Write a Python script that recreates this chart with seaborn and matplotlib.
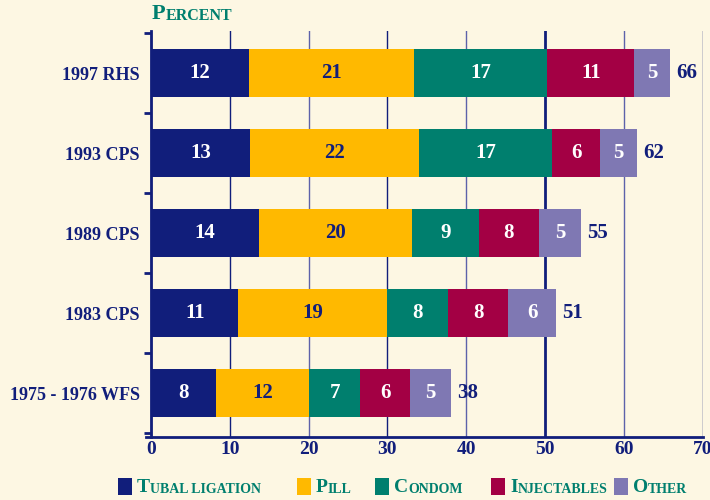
import numpy as np
import matplotlib
matplotlib.use("Agg")
import matplotlib.pyplot as plt
import seaborn as sns
from matplotlib.patches import Rectangle

# survey rows, top to bottom
surveys = ["1997 RHS", "1993 CPS", "1989 CPS", "1983 CPS", "1975 - 1976 WFS"]

# segment widths (percent)
tubal = [12.4, 12.6, 13.7, 11.1, 8.2]
pill = [21.0, 21.4, 19.4, 18.8, 11.9]
condom = [16.9, 16.9, 8.5, 7.8, 6.4]
injectables = [11.0, 6.1, 7.6, 7.6, 6.4]
other = [4.6, 4.7, 5.4, 6.1, 5.2]

# numbers printed on the bars
tubal_lbl = [12, 13, 14, 11, 8]
pill_lbl = [21, 22, 20, 19, 12]
condom_lbl = [17, 17, 9, 8, 7]
inj_lbl = [11, 6, 8, 8, 6]
other_lbl = [5, 5, 5, 6, 5]
total_lbl = [66, 62, 55, 51, 38]

# legend text as (big first letter, small caps rest)
legend_txt = [("T", "UBAL LIGATION"), ("P", "ILL"), ("C", "ONDOM"),
              ("I", "NJECTABLES"), ("O", "THER")]

NAVY = "#111e7b"
TEAL = "#007f6e"
BG = "#fdf7e3"
colors = [NAVY, "#ffb900", TEAL, "#a30044", "#7f78b3"]
text_colors = ["white", NAVY, "white", "white", "white"]
FONT = "Liberation Serif"

plt.rcParams["font.family"] = [FONT, "DejaVu Serif"]
plt.rcParams["font.weight"] = "bold"

fig = plt.figure(figsize=(7.1, 5.0), dpi=100, facecolor=BG)
ax = fig.add_axes([145.5 / 710, 63 / 500, (703 - 145.5) / 710, 406 / 500])
ax.set_facecolor(BG)

layers = [tubal, pill, condom, injectables, other]
labels = [tubal_lbl, pill_lbl, condom_lbl, inj_lbl, other_lbl]
cum = np.cumsum(layers, axis=0)

# stacked bars: draw cumulative totals from the widest down
for i in reversed(range(len(layers))):
    sns.barplot(x=cum[i], y=surveys, order=surveys, orient="h",
                color=colors[i], saturation=1, width=0.6, linewidth=0,
                ax=ax, zorder=2)

for i in range(len(layers)):
    for j in range(len(surveys)):
        center = cum[i][j] - layers[i][j] / 2
        ax.text(center, j, str(labels[i][j]), ha="center", va="center",
                color=text_colors[i], fontsize=15, fontweight="bold", zorder=3)

for j in range(len(surveys)):
    ax.text(cum[-1][j] + 0.8, j, str(total_lbl[j]), ha="left", va="center",
            color=NAVY, fontsize=15, fontweight="bold", zorder=3)

ax.set_xlim(-0.7, 70.05)
ax.set_ylim(4.55, -0.525)
ax.set_xlabel("")
ax.set_ylabel("")

ax.set_xticks(range(0, 71, 10))
ax.set_yticks(range(len(surveys)))
ax.set_yticklabels(surveys)
ax.set_yticks(np.arange(-0.5, len(surveys), 1), minor=True)
ax.tick_params(axis="y", which="major", length=0, pad=8, labelsize=13,
               labelcolor=NAVY)
ax.tick_params(axis="y", which="minor", length=5, width=2, color=NAVY)
ax.tick_params(axis="x", length=0, pad=3, labelsize=14, labelcolor=NAVY)

for sp in ["top", "right"]:
    ax.spines[sp].set_visible(False)
ax.spines["left"].set_position(("data", 0))
for sp in ["left", "bottom"]:
    ax.spines[sp].set_color(NAVY)
    ax.spines[sp].set_linewidth(2)

ax.set_axisbelow(True)
ax.grid(axis="x", color=NAVY, linewidth=1)
ax.grid(axis="y", visible=False)
for k, gl in enumerate(ax.get_xgridlines()):
    if k % 2 == 0:
        gl.set_color("#5d62aa")
    if k == 5:
        gl.set_linewidth(2)
        gl.set_color(NAVY)

# title in small caps
t = fig.text(152 / 710, 1 - 24 / 500, "P", color=TEAL, fontsize=16,
             fontweight="bold", va="bottom")
ax.annotate("ERCENT", xy=(1, 0), xycoords=t, va="bottom", ha="left",
            color=TEAL, fontsize=11.5, fontweight="bold", annotation_clip=False)

# legend
sq_x = [118, 297, 375, 491, 614]
for k, (big, small) in enumerate(legend_txt):
    fig.patches.append(Rectangle((sq_x[k] / 710, 1 - 495 / 500), 14 / 710,
                                 17 / 500, transform=fig.transFigure,
                                 facecolor=colors[k], edgecolor="none"))
    tb = fig.text((sq_x[k] + 19) / 710, 1 - 496 / 500, big, color=TEAL,
                  fontsize=14, fontweight="bold", va="bottom")
    ax.annotate(small, xy=(1, 0), xycoords=tb, va="bottom", ha="left",
                color=TEAL, fontsize=10, fontweight="bold",
                annotation_clip=False)

fig.savefig("out.png", dpi=100, facecolor=BG)
